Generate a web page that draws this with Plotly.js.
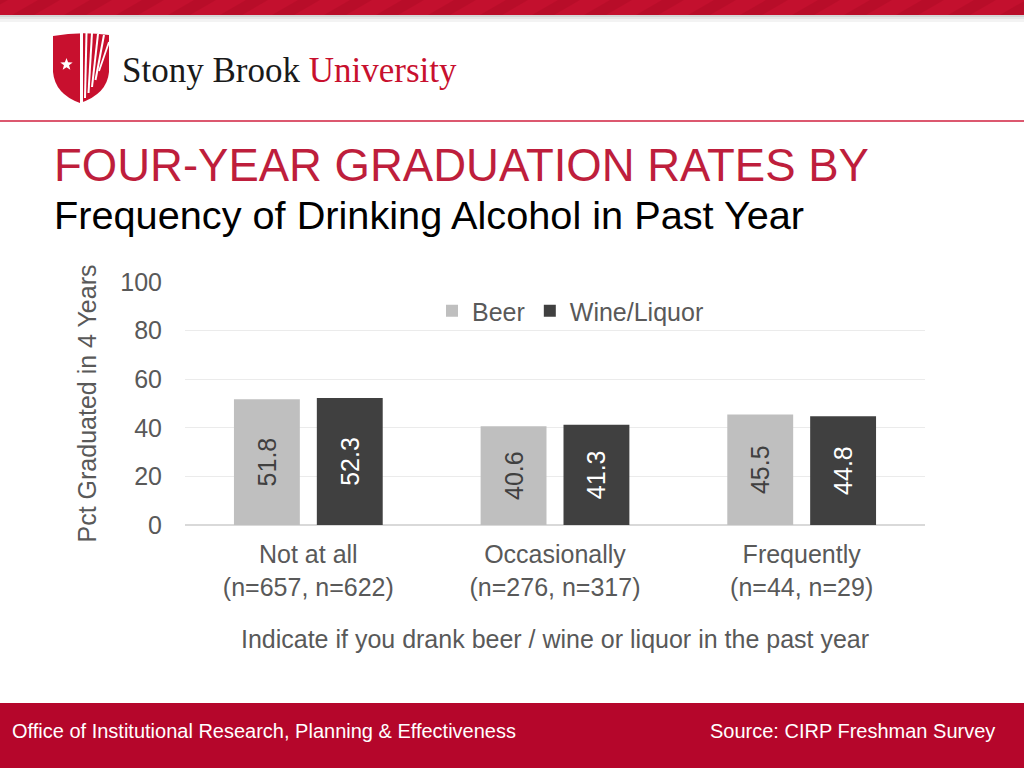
<!DOCTYPE html>
<html>
<head>
<meta charset="utf-8">
<script src="https://cdn.plot.ly/plotly-3.0.1.min.js"></script>
<style>
html,body{margin:0;padding:0;background:#fff;}
#chart{width:1024px;height:768px;}
</style>
</head>
<body>
<div id="chart"></div>
<script>
// ---- data ----
const categories = ["Not at all<br>(n=657, n=622)", "Occasionally<br>(n=276, n=317)", "Frequently<br>(n=44, n=29)"];
const seriesNames = ["Beer", "Wine/Liquor"];
const beerValues = [51.8, 40.6, 45.5];
const wineValues = [52.3, 41.3, 44.8];
const yTickValues = [0, 20, 40, 60, 80, 100];

const titleText = "FOUR-YEAR GRADUATION RATES BY";
const subtitleText = "Frequency of Drinking Alcohol in Past Year";
const yTitleText = "Pct Graduated in 4 Years";
const xTitleText = "Indicate if you drank beer / wine or liquor in the past year";
const footerLeft = "Office of Institutional Research, Planning & Effectiveness";
const footerRight = "Source: CIRP Freshman Survey";

// ---- layout geometry (pixels) ----
const W = 1024, H = 768;
const L = 185, R = 925, T = 282, B = 525;
const X = px => (px - L) / (R - L);
const Y = py => (B - py) / (B - T);
const P = (x, y) => X(x).toFixed(5) + "," + Y(y).toFixed(5);

const FONT = "Liberation Sans, Arial, Helvetica, sans-serif";
const GREY = "#595959";
const RED = "#BE1E3C";
const FS = 25;

const traces = [
  {
    type: "bar", name: seriesNames[0], x: categories, y: beerValues,
    marker: {color: "#BFBFBF"},
    text: beerValues.map(v => v.toFixed(1)), textposition: "inside",
    insidetextanchor: "middle", textangle: -90,
    textfont: {family: FONT, size: FS, color: "#404040"},
    hoverinfo: "none", cliponaxis: false
  },
  {
    type: "bar", name: seriesNames[1], x: categories, y: wineValues,
    marker: {color: "#404040"},
    text: wineValues.map(v => v.toFixed(1)), textposition: "inside",
    insidetextanchor: "middle", textangle: -90,
    textfont: {family: FONT, size: FS, color: "#FFFFFF"},
    hoverinfo: "none", cliponaxis: false
  }
];

const shapes = [];
// top red band
shapes.push({type: "rect", xref: "paper", yref: "paper", x0: X(0), x1: X(W), y0: Y(15), y1: Y(0), fillcolor: "#C3102E", line: {width: 0}, layer: "below"});
for (let i = 0; i < 22; i++) {
  const x0 = -40 + i * 52;
  shapes.push({type: "path", xref: "paper", yref: "paper",
    path: "M" + P(x0, 15) + " L" + P(x0 + 22, 15) + " L" + P(x0 + 48, 0) + " L" + P(x0 + 26, 0) + " Z",
    fillcolor: "rgba(140,0,20,0.18)", line: {width: 0}, layer: "below"});
}
// shadow under band
[["#d5d5d5", 15, 17], ["#e6e6e6", 17, 19], ["#f3f3f3", 19, 22]].forEach(s => {
  shapes.push({type: "rect", xref: "paper", yref: "paper", x0: X(0), x1: X(W), y0: Y(s[2]), y1: Y(s[1]), fillcolor: s[0], line: {width: 0}, layer: "below"});
});
// red separator line
shapes.push({type: "line", xref: "paper", yref: "paper", x0: X(0), x1: X(W), y0: Y(121), y1: Y(121), line: {color: "#D0213F", width: 1.5}});
// footer band
shapes.push({type: "rect", xref: "paper", yref: "paper", x0: X(0), x1: X(W), y0: Y(768), y1: Y(703), fillcolor: "#B5062B", line: {width: 0}, layer: "below"});
// logo shield
shapes.push({type: "path", xref: "paper", yref: "paper",
  path: "M" + P(53, 36) + " Q" + P(80, 31) + " " + P(109, 35) + " L" + P(109, 72) +
        " Q" + P(107, 94) + " " + P(80, 103) + " Q" + P(55, 94) + " " + P(53, 72) + " Z",
  fillcolor: "#C8102E", line: {width: 0}});
// logo stripes
[[81.5, 103, 81.5, 33, 3], [85, 98, 86.5, 33, 2], [88.5, 93, 92, 33, 2], [92, 87, 98, 34, 2], [95.5, 80, 104, 35, 2], [99, 71, 109, 42, 1.8]].forEach(s => {
  shapes.push({type: "line", xref: "paper", yref: "paper", x0: X(s[0]), y0: Y(s[1]), x1: X(s[2]), y1: Y(s[3]), line: {color: "#FFFFFF", width: s[4]}});
});
// star
(function(){
  const cx = 66.5, cy = 64.5, ro = 6.5, ri = 2.7;
  let d = "";
  for (let k = 0; k < 10; k++) {
    const r = k % 2 === 0 ? ro : ri;
    const a = -Math.PI / 2 + k * Math.PI / 5;
    d += (k === 0 ? "M" : " L") + P(cx + r * Math.cos(a), cy + r * Math.sin(a));
  }
  shapes.push({type: "path", xref: "paper", yref: "paper", path: d + " Z", fillcolor: "#FFFFFF", line: {width: 0}});
})();

const annotations = [
  {xref: "paper", yref: "paper", x: X(120), y: Y(70), xanchor: "left", yanchor: "middle", showarrow: false,
   text: "<span style='color:#1a1a1a'>Stony Brook</span> <span style='color:#C8102E'>University</span>",
   font: {family: "Liberation Serif, Times New Roman, serif", size: 35}},
  {xref: "paper", yref: "paper", x: X(52), y: Y(165), xanchor: "left", yanchor: "middle", showarrow: false,
   text: titleText, font: {family: FONT, size: 45.5, color: RED}},
  {xref: "paper", yref: "paper", x: X(52), y: Y(215), xanchor: "left", yanchor: "middle", showarrow: false,
   text: subtitleText, font: {family: FONT, size: 39.7, color: "#000000"}},
  {xref: "paper", yref: "paper", x: X(10), y: Y(731), xanchor: "left", yanchor: "middle", showarrow: false,
   text: footerLeft, font: {family: "Liberation Sans Narrow, Arial Narrow, " + FONT, size: 20, color: "#FFFFFF"}},
  {xref: "paper", yref: "paper", x: X(997), y: Y(731), xanchor: "right", yanchor: "middle", showarrow: false,
   text: footerRight, font: {family: "Liberation Sans Narrow, Arial Narrow, " + FONT, size: 20, color: "#FFFFFF"}}
];

const layout = {
  width: W, height: H,
  margin: {l: L, r: W - R, t: T, b: H - B, pad: 0},
  paper_bgcolor: "#FFFFFF", plot_bgcolor: "#FFFFFF",
  font: {family: FONT, color: GREY},
  barmode: "group", bargap: 0.328, bargroupgap: 0.205,
  showlegend: true,
  legend: {orientation: "h", x: X(432), y: Y(311), xanchor: "left", yanchor: "middle",
           font: {family: FONT, size: FS, color: GREY}, bgcolor: "rgba(0,0,0,0)", itemwidth: 30},
  xaxis: {
    type: "category", automargin: false, showgrid: false, showline: false, zeroline: false,
    ticks: "", ticklabelstandoff: 12, tickfont: {family: FONT, size: FS, color: GREY},
    title: {text: xTitleText, font: {family: FONT, size: FS, color: GREY}, standoff: 30}
  },
  yaxis: {
    range: [0, 100], tickvals: yTickValues, automargin: false,
    showgrid: true, gridcolor: "#EBEBEB", gridwidth: 1,
    zeroline: true, zerolinecolor: "#D9D9D9", zerolinewidth: 1.5,
    showline: false, ticks: "", ticklabelstandoff: 22,
    tickfont: {family: FONT, size: FS, color: GREY},
    title: {text: yTitleText, font: {family: FONT, size: FS, color: GREY}, standoff: 16}
  },
  shapes: shapes,
  annotations: annotations
};

Plotly.newPlot("chart", traces, layout, {displayModeBar: false, staticPlot: true});
</script>
</body>
</html>
